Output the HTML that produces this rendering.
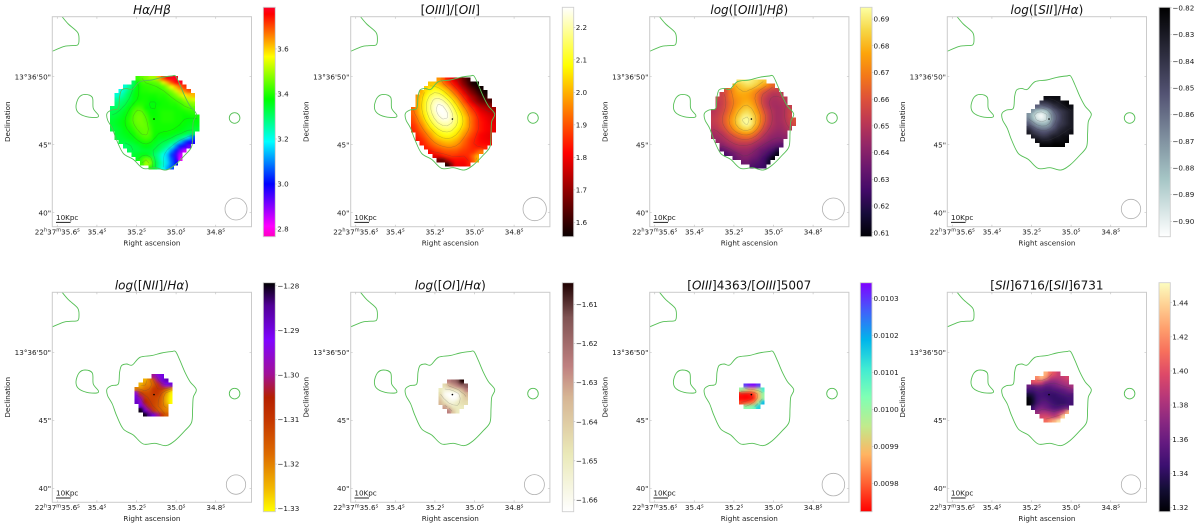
<!DOCTYPE html>
<html lang="en">
<head>
<meta charset="utf-8">
<title>Emission line ratio maps</title>
<style>
html,body{margin:0;padding:0;background:#fff;width:1200px;height:526px;overflow:hidden}
svg{display:block;filter:blur(.35px)}
text{font-family:"DejaVu Sans","Liberation Sans",sans-serif;fill:#1c1c1c}
</style>
</head>
<body>
<svg id="figure" xmlns="http://www.w3.org/2000/svg" width="1200" height="526" viewBox="0 0 1200 526">
<defs>
<filter id="smooth-map" x="-10%" y="-10%" width="120%" height="120%" color-interpolation-filters="sRGB">
<feGaussianBlur in="SourceGraphic" stdDeviation="1.7" result="b"/>
<feComposite in="b" in2="SourceGraphic" operator="in" result="c"/>
<feMerge><feMergeNode in="SourceGraphic"/><feMergeNode in="c"/></feMerge>
</filter>
</defs>
</svg>
<script>
/* ---------- axis data ---------- */
const raTicks = [35.6, 35.4, 35.2, 35.0, 34.8];
const decTicks = [50, 45, 40];
const decLabels = ['13°36\'50"', '45"', '40"'];

/* ---------- green flux contours, in plot units ---------- */
const mainContour = [[123.3,59.3],[127.7,68.3],[132.7,80],[137.7,89.3],[144,97.3],[141,105],[140.3,116.7],[139.3,130],[132.7,138.3],[122.7,148.3],[113.7,153.3],[102.7,151],[91,151.7],[81,142.7],[71,136.7],[64.3,123.3],[60,111.7],[55.3,103.3],[54.7,96.7],[59.3,93.3],[66,91.7],[67.3,80],[69.3,73.3],[74.3,71.7],[80,72.7],[87.7,65],[99.3,63.3],[109.3,60.7],[119.3,59.3]];
const leftBlobContour = [[32.7,77.7],[40,80.7],[41,91.7],[46,98.3],[44.3,100.7],[34.3,100],[26,96],[23.7,89.3],[26.7,80.7]];
const rightBlobContour = [[182.3,96],[186,97.5],[187.6,101.3],[186,105],[182.3,106.6],[178.6,105],[177,101.3],[178.6,97.5]];
const cornerContour = [[9,-1],[16,7.3],[25.3,15.7],[26.7,23.3],[25.3,28.3],[17.7,29],[11,30],[-1,35]];

/* ---------- colour-bar ticks ---------- */
const haHbTicks = [2.8, 3.0, 3.2, 3.4, 3.6];
const o3o2Ticks = [1.6, 1.7, 1.8, 1.9, 2.0, 2.1, 2.2];
const o3HbTicks = [0.61, 0.62, 0.63, 0.64, 0.65, 0.66, 0.67, 0.68, 0.69];
const s2HaTicks = [-0.90, -0.89, -0.88, -0.87, -0.86, -0.85, -0.84, -0.83, -0.82];
const n2HaTicks = [-1.33, -1.32, -1.31, -1.30, -1.29, -1.28];
const o1HaTicks = [-1.66, -1.65, -1.64, -1.63, -1.62, -1.61];
const o3TempTicks = [0.0098, 0.0099, 0.0100, 0.0101, 0.0102, 0.0103];
const s2DensTicks = [1.32, 1.34, 1.36, 1.38, 1.40, 1.42, 1.44];

/* ---------- contour levels ---------- */
const haHbLevels = [3.2, 3.33, 3.38, 3.43];
const o3o2Levels = [1.75, 1.85, 1.95, 2.05, 2.12, 2.18, 2.23];
const o3HbLevels = [0.63, 0.64, 0.65, 0.66, 0.67, 0.68, 0.69];
const s2HaLevels = [-0.90, -0.885, -0.87, -0.855, -0.84, -0.83];
const n2HaLevels = [-1.32, -1.315, -1.31, -1.30];
const o1HaLevels = [-1.66, -1.65, -1.64];
const o3TempLevels = [0.0098, 0.0099, 0.0100];
const s2DensLevels = [1.35, 1.37, 1.40];

/* ---------- pixel values: each row is [first column, values...] ---------- */
const haHbValues = [
[6,3.42,3.45,3.47,3.50,3.50,3.62,3.70,3.76,3.78,3.78],
[5,3.30,3.38,3.42,3.42,3.43,3.44,3.46,3.55,3.62,3.70,3.76,3.78],
[3,3.22,3.26,3.33,3.38,3.40,3.41,3.41,3.42,3.42,3.44,3.50,3.56,3.62,3.68,3.72],
[2,3.20,3.25,3.30,3.35,3.38,3.40,3.40,3.41,3.41,3.41,3.42,3.44,3.48,3.54,3.60,3.66,3.70],
[1,3.22,3.24,3.28,3.32,3.36,3.38,3.39,3.39,3.39,3.39,3.40,3.40,3.41,3.44,3.47,3.52,3.56,3.60,3.62],
[1,3.26,3.28,3.30,3.33,3.36,3.38,3.39,3.39,3.38,3.38,3.39,3.39,3.40,3.41,3.43,3.45,3.49,3.52,3.54],
[1,3.29,3.30,3.32,3.35,3.38,3.40,3.40,3.39,3.37,3.37,3.38,3.39,3.39,3.40,3.40,3.42,3.44,3.46,3.48],
[0,3.30,3.31,3.32,3.34,3.37,3.41,3.43,3.42,3.38,3.37,3.38,3.39,3.39,3.39,3.39,3.39,3.40,3.42,3.43,3.44],
[0,3.32,3.33,3.34,3.36,3.39,3.43,3.45,3.45,3.41,3.38,3.38,3.39,3.40,3.40,3.40,3.39,3.39,3.39,3.40,3.41],
[0,3.33,3.34,3.35,3.37,3.40,3.44,3.46,3.46,3.43,3.39,3.38,3.39,3.40,3.40,3.40,3.39,3.39,3.38,3.38,3.39,3.39],
[0,3.34,3.35,3.36,3.38,3.41,3.44,3.46,3.46,3.44,3.40,3.39,3.39,3.40,3.40,3.40,3.39,3.39,3.38,3.37,3.37,3.37],
[0,3.34,3.35,3.36,3.38,3.40,3.43,3.45,3.46,3.45,3.41,3.39,3.39,3.39,3.39,3.39,3.39,3.38,3.37,3.36,3.36,3.36],
[0,3.33,3.34,3.35,3.37,3.39,3.41,3.44,3.45,3.45,3.42,3.39,3.39,3.39,3.39,3.39,3.38,3.37,3.36,3.35,3.34,3.34],
[1,3.34,3.35,3.36,3.37,3.39,3.42,3.44,3.45,3.43,3.39,3.38,3.38,3.38,3.37,3.36,3.35,3.34,3.32,3.31],
[1,3.33,3.34,3.35,3.36,3.37,3.40,3.42,3.43,3.42,3.38,3.36,3.36,3.35,3.34,3.32,3.29,3.25,3.16,3.06],
[2,3.33,3.33,3.34,3.35,3.37,3.39,3.40,3.39,3.36,3.34,3.33,3.32,3.29,3.25,3.14,3.06,3.00,2.98],
[3,3.30,3.32,3.33,3.34,3.36,3.37,3.36,3.34,3.33,3.30,3.27,3.22,3.10,3.02,2.98,2.92],
[4,3.31,3.33,3.33,3.34,3.34,3.34,3.33,3.30,3.26,3.20,3.10,3.02,2.92,2.84],
[5,3.34,3.35,3.36,3.36,3.34,3.30,3.26,3.20,3.14,3.04,2.96,2.85],
[6,3.36,3.42,3.46,3.44,3.32,3.26,3.20,3.15,3.06,2.98,2.82],
[7,3.42,3.50,3.48,3.34,3.28,3.22,3.16,3.08,3.00],
[9,3.40,3.34,3.26,3.20,3.12,3.06]
];
const o3o2Values = [
[6,1.97,1.92,1.84,1.80,1.75,1.71,1.65,1.60],
[4,2.02,2.02,2.00,1.95,1.90,1.85,1.80,1.74,1.68,1.62,1.57,1.56],
[3,2.03,2.06,2.08,2.06,2.02,1.97,1.91,1.85,1.79,1.73,1.67,1.62,1.58,1.56],
[2,2.00,2.06,2.10,2.13,2.12,2.08,2.03,1.97,1.91,1.85,1.78,1.72,1.67,1.62,1.58,1.56],
[1,1.97,2.03,2.09,2.14,2.17,2.17,2.14,2.09,2.03,1.97,1.90,1.84,1.77,1.72,1.67,1.62,1.59],
[1,1.98,2.05,2.11,2.17,2.21,2.22,2.20,2.15,2.09,2.02,1.95,1.88,1.81,1.75,1.70,1.66,1.64,1.62],
[1,1.98,2.05,2.12,2.18,2.23,2.25,2.24,2.20,2.14,2.07,2.00,1.93,1.87,1.81,1.76,1.72,1.70,1.68],
[0,1.92,1.98,2.05,2.12,2.18,2.23,2.26,2.26,2.23,2.18,2.11,2.04,1.98,1.91,1.86,1.81,1.77,1.75,1.73,1.72],
[0,1.92,1.97,2.04,2.10,2.17,2.21,2.25,2.26,2.25,2.20,2.14,2.08,2.01,1.94,1.89,1.84,1.80,1.78,1.76,1.75],
[0,1.90,1.95,2.01,2.08,2.14,2.19,2.23,2.25,2.25,2.21,2.16,2.10,2.04,1.97,1.91,1.86,1.82,1.80,1.78,1.77],
[0,1.88,1.93,1.98,2.05,2.11,2.16,2.20,2.22,2.22,2.20,2.15,2.10,2.04,1.97,1.91,1.86,1.83,1.81,1.79,1.78],
[0,1.86,1.90,1.95,2.01,2.07,2.12,2.16,2.18,2.19,2.17,2.13,2.08,2.03,1.97,1.91,1.86,1.83,1.81,1.80,1.79],
[0,1.85,1.88,1.92,1.97,2.02,2.07,2.11,2.13,2.14,2.13,2.09,2.05,2.00,1.95,1.90,1.86,1.83,1.81,1.80,1.79],
[1,1.85,1.89,1.93,1.98,2.03,2.07,2.09,2.10,2.09,2.06,2.02,1.97,1.92,1.88,1.84,1.81,1.80,1.79],
[1,1.83,1.86,1.90,1.94,1.99,2.02,2.04,2.05,2.04,2.02,1.98,1.93,1.89,1.86,1.83,1.81,1.80,1.79],
[2,1.84,1.87,1.91,1.94,1.97,1.99,2.00,2.00,1.98,1.95,1.91,1.88,1.85,1.83,1.82,1.81,1.81],
[3,1.84,1.87,1.90,1.92,1.94,1.95,1.95,1.94,1.92,1.89,1.87,1.85,1.84,1.84,1.85],
[4,1.82,1.85,1.87,1.89,1.90,1.90,1.90,1.88,1.87,1.86,1.86,1.90,1.95],
[5,1.78,1.80,1.84,1.86,1.87,1.86,1.85,1.85,1.86,1.92,2.00],
[6,1.65,1.65,1.74,1.80,1.82,1.82,1.82,1.84,1.90,2.00],
[8,1.58,1.70,1.80,1.80,1.80,1.84]
];
const o3HbValues = [
[6,0.688,0.690,0.692,0.690,0.688,0.685,0.683],
[5,0.678,0.682,0.685,0.687,0.687,0.684,0.680,0.675,0.670,0.665],
[3,0.660,0.668,0.675,0.680,0.681,0.681,0.678,0.673,0.668,0.663,0.658,0.655,0.655],
[2,0.655,0.660,0.668,0.674,0.677,0.678,0.677,0.674,0.670,0.663,0.657,0.653,0.650,0.650,0.652],
[1,0.655,0.655,0.660,0.667,0.672,0.675,0.677,0.677,0.674,0.669,0.661,0.654,0.650,0.648,0.648,0.650,0.652],
[1,0.652,0.654,0.659,0.665,0.671,0.675,0.678,0.679,0.677,0.671,0.662,0.654,0.649,0.647,0.647,0.648,0.650],
[1,0.652,0.655,0.660,0.666,0.672,0.677,0.681,0.682,0.680,0.674,0.665,0.656,0.650,0.647,0.646,0.647,0.650,0.654],
[0,0.650,0.653,0.656,0.661,0.668,0.675,0.681,0.685,0.687,0.684,0.677,0.669,0.660,0.653,0.649,0.646,0.647,0.650,0.655],
[0,0.652,0.654,0.658,0.664,0.671,0.678,0.684,0.690,0.691,0.688,0.681,0.672,0.663,0.654,0.649,0.646,0.647,0.650,0.656],
[0,0.653,0.655,0.659,0.665,0.673,0.680,0.687,0.693,0.694,0.690,0.682,0.672,0.663,0.654,0.649,0.646,0.647,0.650,0.654,0.660],
[0,0.652,0.654,0.658,0.664,0.672,0.679,0.686,0.692,0.694,0.690,0.681,0.671,0.661,0.653,0.649,0.646,0.646,0.649,0.653,0.658],
[0,0.650,0.652,0.656,0.661,0.668,0.675,0.681,0.686,0.688,0.684,0.675,0.666,0.657,0.650,0.647,0.645,0.645,0.647,0.650],
[0,0.647,0.648,0.651,0.656,0.662,0.668,0.672,0.676,0.677,0.674,0.667,0.659,0.652,0.648,0.645,0.643,0.643,0.645],
[0,0.645,0.646,0.648,0.651,0.655,0.659,0.663,0.665,0.666,0.664,0.659,0.653,0.648,0.644,0.642,0.641,0.641,0.642],
[1,0.643,0.645,0.648,0.651,0.654,0.656,0.657,0.657,0.655,0.651,0.647,0.644,0.641,0.639,0.638,0.637],
[2,0.640,0.643,0.646,0.648,0.650,0.650,0.650,0.648,0.645,0.642,0.639,0.636,0.634,0.632,0.630],
[2,0.632,0.636,0.640,0.643,0.645,0.645,0.645,0.643,0.640,0.636,0.634,0.631,0.628,0.620],
[3,0.628,0.632,0.636,0.640,0.642,0.642,0.640,0.637,0.634,0.630,0.626,0.620,0.612],
[5,0.632,0.636,0.639,0.639,0.636,0.634,0.630,0.626,0.620,0.610],
[7,0.635,0.636,0.632,0.630,0.628,0.625,0.615],
[9,0.628,0.627,0.626,0.624]
];
const s2HaValues = [
[4,-0.825,-0.825,-0.825,-0.825],
[3,-0.84,-0.84,-0.835,-0.83,-0.83,-0.825,-0.822],
[2,-0.855,-0.86,-0.855,-0.85,-0.84,-0.835,-0.83,-0.825,-0.825],
[1,-0.87,-0.885,-0.89,-0.885,-0.87,-0.855,-0.845,-0.84,-0.835,-0.83],
[0,-0.87,-0.885,-0.90,-0.905,-0.895,-0.875,-0.86,-0.85,-0.84,-0.835,-0.83],
[0,-0.865,-0.88,-0.895,-0.90,-0.895,-0.88,-0.86,-0.85,-0.84,-0.835,-0.83],
[0,-0.855,-0.865,-0.875,-0.88,-0.88,-0.87,-0.855,-0.845,-0.84,-0.835,-0.83],
[0,-0.84,-0.85,-0.86,-0.865,-0.865,-0.86,-0.85,-0.84,-0.835,-0.83,-0.83],
[0,-0.83,-0.84,-0.845,-0.85,-0.85,-0.845,-0.84,-0.835,-0.83,-0.83,-0.825],
[1,-0.83,-0.835,-0.84,-0.84,-0.835,-0.83,-0.83,-0.825,-0.825],
[2,-0.825,-0.83,-0.83,-0.83,-0.825,-0.825,-0.825,-0.822],
[3,-0.822,-0.822,-0.822,-0.82,-0.82,-0.82]
];
const n2HaValues = [
[4,-1.30,-1.295,-1.29],
[2,-1.325,-1.32,-1.315,-1.30,-1.29,-1.287],
[1,-1.325,-1.32,-1.32,-1.315,-1.31,-1.30,-1.293,-1.29],
[0,-1.32,-1.32,-1.318,-1.316,-1.31,-1.31,-1.31,-1.315,-1.322],
[0,-1.295,-1.31,-1.313,-1.313,-1.31,-1.31,-1.315,-1.322,-1.33],
[0,-1.29,-1.30,-1.31,-1.312,-1.312,-1.313,-1.317,-1.325,-1.333],
[0,-1.288,-1.295,-1.305,-1.31,-1.312,-1.314,-1.318,-1.325,-1.333],
[1,-1.29,-1.30,-1.308,-1.312,-1.315,-1.318,-1.322],
[1,-1.28,-1.29,-1.30,-1.31,-1.315,-1.318,-1.32],
[2,-1.28,-1.285,-1.29,-1.30,-1.31,-1.315]
];
const o1HaValues = [
[2,-1.625,-1.62,-1.615,-1.604],
[1,-1.645,-1.635,-1.63,-1.625,-1.62,-1.615],
[0,-1.65,-1.655,-1.655,-1.65,-1.645,-1.635,-1.625],
[0,-1.645,-1.66,-1.664,-1.664,-1.662,-1.645,-1.635],
[0,-1.64,-1.655,-1.66,-1.664,-1.66,-1.645,-1.64],
[0,-1.635,-1.645,-1.655,-1.655,-1.65,-1.645,-1.645],
[1,-1.63,-1.64,-1.65,-1.65,-1.65],
[2,-1.625,-1.64,-1.65]
];
const o3TempValues = [
[1,0.0103,0.01033,0.01035,0.0103],
[0,0.0100,0.00995,0.0099,0.0099,0.00995,0.0101],
[0,0.00974,0.00973,0.00974,0.00978,0.00988,0.0100],
[0,0.00973,0.00972,0.00973,0.00976,0.00988,0.0100],
[0,0.00978,0.00978,0.00980,0.00985,0.00998,0.01018],
[1,0.01002,0.01002,0.01005,0.01015]
];
const s2DensValues = [
[4,1.43,1.41,1.40,1.39],
[2,1.42,1.435,1.42,1.39,1.385,1.385,1.39,1.395],
[1,1.40,1.40,1.395,1.375,1.37,1.37,1.375,1.38,1.385],
[0,1.36,1.355,1.36,1.36,1.355,1.355,1.36,1.365,1.37,1.375,1.38],
[0,1.345,1.345,1.35,1.35,1.348,1.348,1.35,1.352,1.355,1.36,1.365],
[0,1.33,1.335,1.345,1.348,1.345,1.342,1.342,1.345,1.348,1.35,1.35],
[0,1.318,1.33,1.345,1.35,1.35,1.345,1.342,1.342,1.343,1.345,1.348],
[0,1.316,1.33,1.348,1.355,1.355,1.35,1.345,1.342,1.342,1.344,1.347],
[1,1.345,1.36,1.365,1.36,1.355,1.35,1.35,1.355,1.36],
[2,1.375,1.38,1.38,1.375,1.37,1.375,1.39,1.43],
[3,1.395,1.395,1.39,1.385,1.40,1.44],
[4,1.41,1.42,1.43,1.445]
];

/* ---------- colour maps (style) ---------- */
const cmaps = {
  gistRainbowR:[[0,'#ff00bf'],[.046,'#ff00ff'],[.23,'#0000ff'],[.414,'#00ffff'],[.6,'#00ff00'],[.785,'#ffff00'],[.97,'#ff0000'],[1,'#ff0029']],
  hot:[[0,'#0a0000'],[.365,'#ff0000'],[.746,'#ffff00'],[1,'#ffffff']],
  inferno:[[0,'#000004'],[.1,'#160b39'],[.2,'#420a68'],[.3,'#6a176e'],[.4,'#932667'],[.5,'#bc3754'],[.6,'#dd513a'],[.7,'#f37819'],[.8,'#fca50a'],[.9,'#f6d746'],[1,'#fcffa4']],
  boneR:[[0,'#ffffff'],[.25,'#a6c6c6'],[.625,'#535373'],[1,'#000000']],
  gnuplotR:[[0,'#ffff00'],[.1,'#f2ba00'],[.25,'#dd6b00'],[.4,'#c53700'],[.5,'#b42000'],[.6,'#a11096'],[.75,'#8004ff'],[.9,'#510096'],[1,'#000000']],
  pinkR:[[0,'#ffffff'],[.25,'#eae9b8'],[.5,'#d6b594'],[.635,'#bf8080'],[.85,'#7f5353'],[1,'#1e0000']],
  rainbowR:[[0,'#ff0000'],[.125,'#ff6132'],[.25,'#ffb462'],[.375,'#c0eb8d'],[.5,'#80ffb4'],[.625,'#40ebd3'],[.75,'#00b5eb'],[.875,'#4061fa'],[1,'#8000ff']],
  magma:[[0,'#000004'],[.1,'#140e36'],[.2,'#3b0f70'],[.3,'#641a80'],[.4,'#8c2981'],[.5,'#b73779'],[.6,'#de4968'],[.7,'#f7705c'],[.8,'#fe9f6d'],[.9,'#fecf92'],[1,'#fcfdbf']]
};

/* ---------- panel layout ---------- */
const panels = [
 {id:'halpha-hbeta',title:'*Hα/Hβ*',col:52.3,row:0,bar:263.3,barW:12,tickGap:2,values:haHbValues,ticks:haHbTicks,levels:haHbLevels,dec:1,vmin:2.766,vmax:3.785,cmap:'gistRainbowR',gx:57.7,gy:59.3,beam:[183.7,11]},
 {id:'oiii-oii',title:'[*OIII*]/[*OII*]',col:350.7,row:0,bar:562.3,barW:11.4,tickGap:2,values:o3o2Values,ticks:o3o2Ticks,levels:o3o2Levels,dec:1,vmin:1.556,vmax:2.2615,cmap:'hot',gx:60.3,gy:60.7,beam:[184,11.7]},
 {id:'log-oiii-hbeta',title:'*log*([*OIII*]/*Hβ*)',col:649.7,row:0,bar:860.3,barW:11.7,tickGap:1.5,values:o3HbValues,ticks:o3HbTicks,levels:o3HbLevels,dec:2,vmin:0.6085,vmax:0.6944,cmap:'inferno',gx:61.3,gy:62.7,beam:[183.7,11]},
 {id:'log-sii-halpha',title:'*log*([*SII*]/*Hα*)',col:947.3,row:0,bar:1159,barW:11.3,tickGap:2,values:s2HaValues,ticks:s2HaTicks,levels:s2HaLevels,dec:2,vmin:-0.9058,vmax:-0.8198,cmap:'boneR',gx:79.3,gy:79.3,beam:[183.7,9.7]},
 {id:'log-nii-halpha',title:'*log*([*NII*]/*Hα*)',col:52.3,row:1,bar:263.3,barW:12,tickGap:2,values:n2HaValues,ticks:n2HaTicks,levels:n2HaLevels,dec:2,vmin:-1.3307,vmax:-1.2793,cmap:'gnuplotR',gx:82,gy:81.7,beam:[183.7,9.7]},
 {id:'log-oi-halpha',title:'*log*([*OI*]/*Hα*)',col:350.7,row:1,bar:562.3,barW:11.4,tickGap:2,values:o1HaValues,ticks:o1HaTicks,levels:o1HaLevels,dec:2,vmin:-1.663,vmax:-1.6045,cmap:'pinkR',gx:87.7,gy:87,beam:[183.7,10]},
 {id:'oiii4363-oiii5007',title:'[*OIII*]4363/[*OIII*]5007',col:649.7,row:1,bar:860.3,barW:11.7,tickGap:1.5,values:o3TempValues,ticks:o3TempTicks,levels:o3TempLevels,dec:4,vmin:0.009724,vmax:0.010342,cmap:'rainbowR',gx:89.3,gy:91,beam:[183.7,11.3]},
 {id:'sii6716-sii6731',title:'[*SII*]6716/[*SII*]6731',col:947.3,row:1,bar:1159,barW:11.3,tickGap:2,values:s2DensValues,ticks:s2DensTicks,levels:s2DensLevels,dec:2,vmin:1.3175,vmax:1.4517,cmap:'magma',gx:79.3,gy:79.3,beam:[183.7,9.7]}
];
const rowTops = [16.7, 292.3];
const barTops = [7.3, 282.7];
const barHeight = [229.4, 229];
const plotW = 199.2, plotH = 210, cell = 4.25;

/* ---------- helpers ---------- */
const NS = 'http://www.w3.org/2000/svg';
const root = document.getElementById('figure');
const defs = root.querySelector('defs');
function mk(tag, attrs, parent, txt) {
  const n = document.createElementNS(NS, tag);
  for (const k in attrs) n.setAttribute(k, attrs[k]);
  if (txt !== undefined) n.textContent = txt;
  parent.appendChild(n);
  return n;
}
function hexRgb(h){return [parseInt(h.slice(1,3),16),parseInt(h.slice(3,5),16),parseInt(h.slice(5,7),16)];}
function colorAt(stops, t) {
  t = Math.max(0, Math.min(1, t));
  for (let i = 1; i < stops.length; i++) {
    if (t <= stops[i][0]) {
      const a = stops[i-1], b = stops[i], f = (t - a[0]) / (b[0] - a[0]);
      const ca = hexRgb(a[1]), cb = hexRgb(b[1]);
      return 'rgb(' + ca.map((v, j) => Math.round(v + (cb[j] - v) * f)).join(',') + ')';
    }
  }
  return stops[stops.length-1][1];
}
function smoothPath(pts, closed, sx, sy) {
  const n = pts.length;
  const P = i => closed ? pts[(i + n) % n] : pts[Math.max(0, Math.min(n - 1, i))];
  let d = 'M' + sx(P(0)[0]).toFixed(2) + ' ' + sy(P(0)[1]).toFixed(2);
  const last = closed ? n : n - 1;
  for (let i = 0; i < last; i++) {
    const p0 = P(i-1), p1 = P(i), p2 = P(i+1), p3 = P(i+2);
    const c1x = p1[0] + (p2[0] - p0[0]) / 6, c1y = p1[1] + (p2[1] - p0[1]) / 6;
    const c2x = p2[0] - (p3[0] - p1[0]) / 6, c2y = p2[1] - (p3[1] - p1[1]) / 6;
    d += 'C' + sx(c1x).toFixed(2) + ' ' + sy(c1y).toFixed(2) + ' ' + sx(c2x).toFixed(2) + ' ' + sy(c2y).toFixed(2) + ' ' + sx(p2[0]).toFixed(2) + ' ' + sy(p2[1]).toFixed(2);
  }
  return d + (closed ? 'Z' : '');
}
function toGrid(rows) {
  const cols = Math.max(...rows.map(r => r[0] + r.length - 1));
  return rows.map(r => {
    const out = new Array(cols).fill(null);
    r.slice(1).forEach((v, i) => { out[r[0] + i] = v; });
    return out;
  });
}
/* neighbour average so the thin contour lines are not jagged */
function softened(grid) {
  return grid.map((row, r) => row.map((v, c) => {
    if (v === null) return null;
    let s = 0, n = 0;
    for (let i = -1; i <= 1; i++) for (let j = -1; j <= 1; j++) {
      const w = grid[r+i] ? grid[r+i][c+j] : null;
      if (w !== null && w !== undefined) { const k = (i === 0 && j === 0) ? 2 : 1; s += w * k; n += k; }
    }
    return s / n;
  }));
}
function isoPath(grid, level, fx, fy) {
  let d = '';
  for (let r = 0; r < grid.length - 1; r++) {
    for (let c = 0; c < grid[r].length - 1; c++) {
      const a = grid[r][c], b = grid[r][c+1], e = grid[r+1][c+1], f = grid[r+1][c];
      if (a === null || b === null || e === null || f === null) continue;
      const hits = [];
      const cross = (v1, v2, x1, y1, x2, y2) => {
        if ((v1 < level) !== (v2 < level)) {
          const t = (level - v1) / (v2 - v1);
          hits.push([x1 + (x2 - x1) * t, y1 + (y2 - y1) * t]);
        }
      };
      cross(a, b, c, r, c+1, r);
      cross(b, e, c+1, r, c+1, r+1);
      cross(f, e, c, r+1, c+1, r+1);
      cross(a, f, c, r, c, r+1);
      for (let h = 0; h + 1 < hits.length; h += 2) {
        d += 'M' + fx(hits[h][0] + .5).toFixed(2) + ' ' + fy(hits[h][1] + .5).toFixed(2) +
             'L' + fx(hits[h+1][0] + .5).toFixed(2) + ' ' + fy(hits[h+1][1] + .5).toFixed(2);
      }
    }
  }
  return d;
}

/* ---------- draw ---------- */
panels.forEach(p => {
  const top = rowTops[p.row];
  const xS = u => p.col + u * plotW / 199.2;
  const yS = u => top + u * plotH / 210;
  const raX = v => xS(5 + (35.6 - v) / 0.2 * 39.6);
  const decY = v => yS(60 + (50 - v) * 13.6);
  const stops = cmaps[p.cmap];
  const cOf = v => colorAt(stops, (v - p.vmin) / (p.vmax - p.vmin));

  const g = mk('g', {}, root);
  
  

  const clip = mk('clipPath', {id: 'clip-' + p.id}, defs);
  
  
  const clipRect = mk('rect', {x: xS(0), y: yS(0), width: plotW, height: plotH}, clip);
  
  

  /* heatmap */
  const heat = mk('g', {'shape-rendering': 'crispEdges', filter: 'url(#smooth-map)'}, g);
  
  
  const grid = toGrid(p.values);
  const cellX = c => xS(p.gx + c * cell);
  const cellY = r => yS(p.gy + r * cell);
  grid.forEach((row, r) => row.forEach((v, c) => {
    if (v === null) return;
    const rect = mk('rect', {x: cellX(c).toFixed(2), y: cellY(r).toFixed(2), width: (cell + .05).toFixed(2), height: (cell + .05).toFixed(2), fill: cOf(v)}, heat);
    
    
  }));

  /* inner iso-contours */
  const soft = softened(grid);
  const iso = mk('path', {d: p.levels.map(l => isoPath(soft, l, cellX, cellY)).join(''), fill: 'none', stroke: 'rgba(70,70,70,.3)', 'stroke-width': .55}, g);
  
  

  /* green flux contours */
  const flux = mk('g', {fill: 'none', stroke: '#55bf55', 'stroke-width': .9, 'clip-path': 'url(#clip-' + p.id + ')'}, g);
  
  
  const cMain = mk('path', {d: smoothPath(mainContour, true, xS, yS)}, flux);
  
  
  const cLeft = mk('path', {d: smoothPath(leftBlobContour, true, xS, yS)}, flux);
  
  
  const cRight = mk('path', {d: smoothPath(rightBlobContour, true, xS, yS)}, flux);
  
  
  const cCorner = mk('path', {d: smoothPath(cornerContour, false, xS, yS)}, flux);
  
  

  /* centre marker */
  const dot = mk('circle', {cx: xS(101.7), cy: yS(102.3), r: .8, fill: '#000'}, g);
  
  

  /* beam */
  const beam = mk('circle', {cx: xS(p.beam[0]), cy: yS(192.3), r: p.beam[1], fill: 'none', stroke: '#b0b0b0', 'stroke-width': .8}, g);
  
  

  /* scale bar */
  const sb = mk('line', {x1: xS(3.7), x2: xS(18.3), y1: yS(205.7), y2: yS(205.7), stroke: '#222', 'stroke-width': 1}, g);
  
  
  const sbT = mk('text', {x: xS(3.7), y: yS(203.2), 'font-size': 7.2}, g, '10Kpc');
  
  

  /* frame */
  const frame = mk('rect', {x: xS(0), y: yS(0), width: plotW, height: plotH, fill: 'none', stroke: '#cbcbcb', 'stroke-width': 1}, g);
  
  

  /* ticks */
  let tickD = '';
  decTicks.forEach(v => { tickD += 'M' + xS(0) + ' ' + decY(v) + 'h2M' + xS(plotW) + ' ' + decY(v) + 'h-2'; });
  raTicks.forEach(v => { tickD += 'M' + raX(v) + ' ' + yS(0) + 'v2M' + raX(v) + ' ' + yS(plotH) + 'v-2'; });
  const tk = mk('path', {d: tickD, stroke: '#c4c4c4', 'stroke-width': .7, fill: 'none'}, g);
  
  

  /* RA labels */
  raTicks.forEach((v, i) => {
    const t = mk('text', {x: raX(v).toFixed(2), y: yS(217.6), 'font-size': 7.2, 'text-anchor': 'middle'}, g);
    
    
    const sup = s => {
      const ts = mk('tspan', {'font-size': 5, dy: -2.6}, t, s);
      
      
    };
    const body = s => {
      const ts = mk('tspan', {dy: 2.6}, t, s);
      
      
    };
    if (i === 0) {
      t.appendChild(document.createTextNode('22'));
      sup('h'); body('37'); sup('m'); body(v.toFixed(1)); sup('s');
    } else {
      t.appendChild(document.createTextNode(v.toFixed(1)));
      sup('s');
    }
  });

  /* Dec labels */
  decTicks.forEach((v, i) => {
    const t = mk('text', {x: xS(-1.3), y: decY(v) + 2.6, 'font-size': 7.2, 'text-anchor': 'end'}, g, decLabels[i]);
    
    
  });

  /* axis titles */
  const xl = mk('text', {x: xS(plotW / 2), y: yS(228.6), 'font-size': 7.2, 'text-anchor': 'middle'}, g, 'Right ascension');
  
  
  const yx = xS(-42.2), yy = yS(105);
  const yl = mk('text', {x: yx, y: yy, 'font-size': 7.2, 'text-anchor': 'middle', transform: 'rotate(-90 ' + yx + ' ' + yy + ')'}, g, 'Declination');
  
  

  /* panel title: *...* marks the italic parts */
  const ttl = mk('text', {x: xS(plotW / 2), y: yS(-2.6), 'font-size': 12, 'text-anchor': 'middle', style: 'fill:#111'}, g);
  
  
  p.title.split('*').forEach((part, i) => {
    if (!part) return;
    if (i % 2) {
      const ts = mk('tspan', {'font-style': 'italic'}, ttl, part);
      
      
    } else {
      ttl.appendChild(document.createTextNode(part));
    }
  });

  /* colour bar */
  const bTop = barTops[p.row], bH = barHeight[p.row];
  const grad = mk('linearGradient', {id: 'grad-' + p.id, x1: 0, y1: 1, x2: 0, y2: 0}, defs);
  
  
  stops.forEach(s => {
    const st = mk('stop', {offset: s[0], 'stop-color': s[1]}, grad);
    
    
  });
  const bar = mk('rect', {x: p.bar, y: bTop, width: p.barW, height: bH, fill: 'url(#grad-' + p.id + ')', stroke: '#cfcfcf', 'stroke-width': .9}, g);
  
  
  const barY = v => bTop + bH * (1 - (v - p.vmin) / (p.vmax - p.vmin));
  p.ticks.forEach(v => {
    const m = mk('line', {x1: p.bar + p.barW, x2: p.bar + p.barW + 1.5, y1: barY(v), y2: barY(v), stroke: '#bbb', 'stroke-width': .6}, g);
    
    
    const lb = mk('text', {x: p.bar + p.barW + p.tickGap, y: barY(v) + 2.6, 'font-size': 7.2}, g, v.toFixed(p.dec).replace('-', '−'));
    
    
  });
});
</script>
</body>
</html>
